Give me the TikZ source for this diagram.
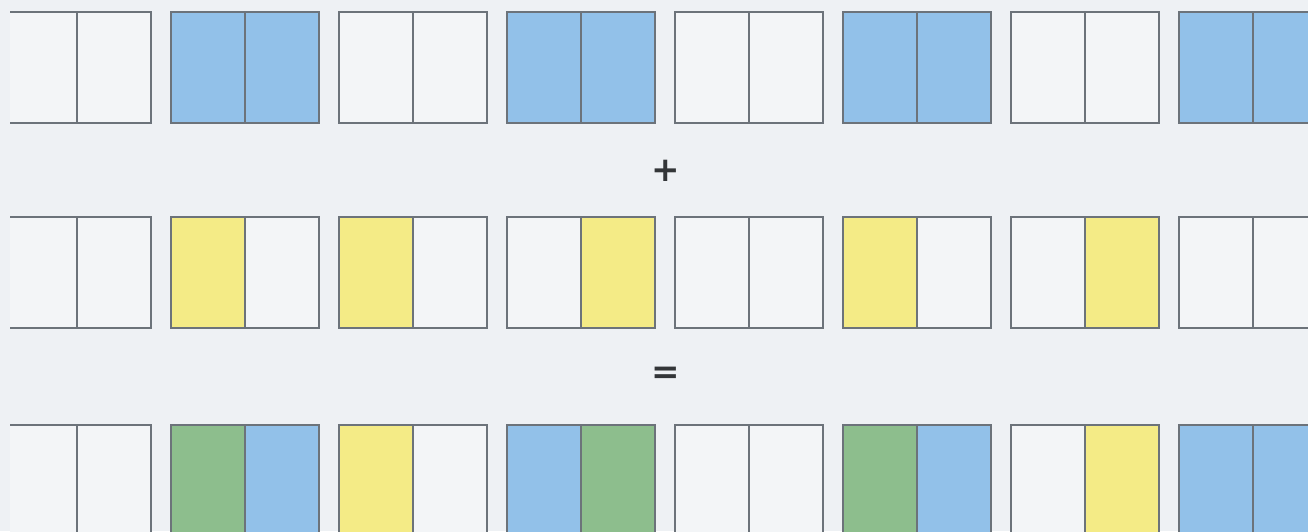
\documentclass[tikz,border=0pt]{standalone}
\usepackage{amsmath}
\usepackage{fontspec}
\newfontfamily\signfont{DejaVu Sans}
\usetikzlibrary{positioning}
\definecolor{paper}{HTML}{EEF1F4}
\definecolor{cellW}{HTML}{F3F5F7}
\definecolor{cellB}{HTML}{92C1E9}
\definecolor{cellY}{HTML}{F4EB86}
\definecolor{cellG}{HTML}{8DBE8D}
\definecolor{rulegray}{HTML}{6C737A}
\definecolor{signgray}{HTML}{333638}
\tikzset{
  half/.style={draw=rulegray, line width=1.2pt, minimum width=74pt, minimum height=111pt,
    inner sep=0pt, outer sep=0pt},
  sign/.style={text=signgray, font=\fontsize{34}{34}\selectfont\signfont\bfseries, inner sep=0pt}
}
\begin{document}
\begin{tikzpicture}[x=1pt,y=-1pt]
\fill[paper] (0,0) rectangle (1308,531);
\useasboundingbox (0,0) rectangle (1308,531);
% three rows of split boxes
\begin{scope}
\clip (10,0) rectangle (1308,531);
\foreach \row/\ytop/\cols in {
  1/12/{W,W,B,B,W,W,B,B,W,W,B,B,W,W,B,B},
  2/217/{W,W,Y,W,Y,W,W,Y,W,W,Y,W,W,Y,W,W},
  3/425/{W,W,G,B,Y,W,B,G,W,W,G,B,W,Y,B,B}}{
  \foreach \c [count=\i] in \cols {
    \pgfmathtruncatemacro\k{(\i-1)/2}
    \pgfmathtruncatemacro\s{mod(\i-1,2)}
    \node[half, fill=cell\c] (h\row-\i) at ({40+168*\k+74*\s},{\ytop+55.5}) {};
  }
}
\end{scope}
\node[sign] (plus)   at (666,171) {+};
\node[sign] (equals) at (666,375) {=};
\end{tikzpicture}
\end{document}
